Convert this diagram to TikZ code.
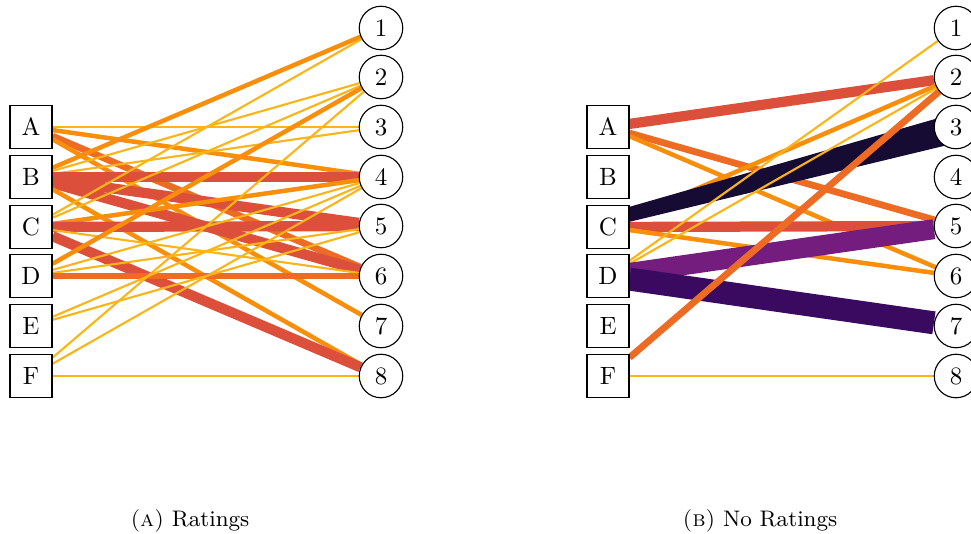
\documentclass[tikz,border=0pt]{standalone}
\usetikzlibrary{backgrounds,calc}
\definecolor{cY}{HTML}{FCB419}
\definecolor{cO}{HTML}{F98E0A}
\definecolor{cOR}{HTML}{EE6B24}
\definecolor{cR}{HTML}{DC503B}
\definecolor{cP}{HTML}{741D7E}
\definecolor{cDP}{HTML}{390A60}
\definecolor{cN}{HTML}{150B33}
\tikzset{
  bx/.style={draw=black, line width=0.45pt, fill=white, minimum width=16.8pt, minimum height=17.2pt, inner sep=0pt},
  cc/.style={draw=black, line width=0.45pt, fill=white, circle, minimum size=17.4pt, inner sep=0pt},
  wY/.style={draw=cY, line width=0.85pt},
  wO/.style={draw=cO, line width=1.8pt},
  wOR/.style={draw=cOR, line width=2.7pt},
  wR/.style={draw=cR, line width=4.1pt},
  wP/.style={draw=cP, line width=8pt},
  wDP/.style={draw=cDP, line width=9.2pt},
  wN/.style={fill=cN},
  captxt/.style={font=\small}
}
\begin{document}
\begin{tikzpicture}[x=0.4pt, y=-0.4pt]
\useasboundingbox (0,0) rectangle (971,533);
\foreach \n/\yy in {A/127, B/177, C/227, D/276, E/326, F/376}{
  \node[bx] (l\n) at (31,\yy) {\n};
  \node[bx] (r\n) at (608,\yy) {\n};
}
\foreach \n/\yy in {1/28, 2/77, 3/127, 4/177, 5/226, 6/276, 7/326, 8/376}{
  \node[cc] (l\n) at (381,\yy) {\n};
  \node[cc] (r\n) at (956,\yy) {\n};
}
\begin{pgfonlayer}{background}
% left: Ratings
\draw[wY] (lA) -- (l3);
\draw[wO] (lA) -- (l4);
\draw[wOR] (lA) -- (l6);
\draw[wO] (lA) -- (l7);
\draw[wO] (lB) -- (l1);
\draw[wY] (lB) -- (l2);
\draw[wY] (lB) -- (l3);
\draw[wR] (lB) -- (l4);
\draw[wR] (lB) -- (l5);
\draw[wR] (lB) -- (l6);
\draw[wO] (lB) -- (l8);
\draw[wY] (lC) -- (l1);
\draw[wY] (lC) -- (l2);
\draw[wO] (lC) -- (l4);
\draw[wR] (lC) -- (l5);
\draw[wY] (lC) -- (l6);
\draw[wR] (lC) -- (l8);
\draw[wO] (lD) -- (l2);
\draw[wY] (lD) -- (l4);
\draw[wY] (lD) -- (l5);
\draw[wOR] (lD) -- (l6);
\draw[wY] (lE) -- (l4);
\draw[wY] (lE) -- (l5);
\draw[wY] (lF) -- (l2);
\draw[wY] (lF) -- (l4);
\draw[wY] (lF) -- (l8);
% right: No Ratings
\draw[wR] (rA) -- (r2);
\draw[wOR] (rA) -- (r5);
\draw[wO] (rA) -- (r6);
\draw[wO] (rC) -- (r2);
\fill[wN] ($(rC)+(0,-14)$) -- ($(r3)+(0,-14)$) -- ($(r3)+(0,16)$) -- (rC.center) -- cycle;
\draw[wR] (rC) -- (r5);
\draw[wO] (rC) -- (r6);
\draw[wY] (rD) -- (r1);
\draw[wY] (rD) -- (r2);
\draw[wP] (rD) -- (r5);
\draw[wDP] (rD) -- (r7);
\draw[wOR] (rF) -- (r2);
\draw[wY] (rF) -- (r8);
\end{pgfonlayer}
\node[captxt] (capA) at (190,521) {\textsc{(a)}~Ratings};
\node[captxt] (capB) at (760,521) {\textsc{(b)}~No Ratings};
\end{tikzpicture}
\end{document}
